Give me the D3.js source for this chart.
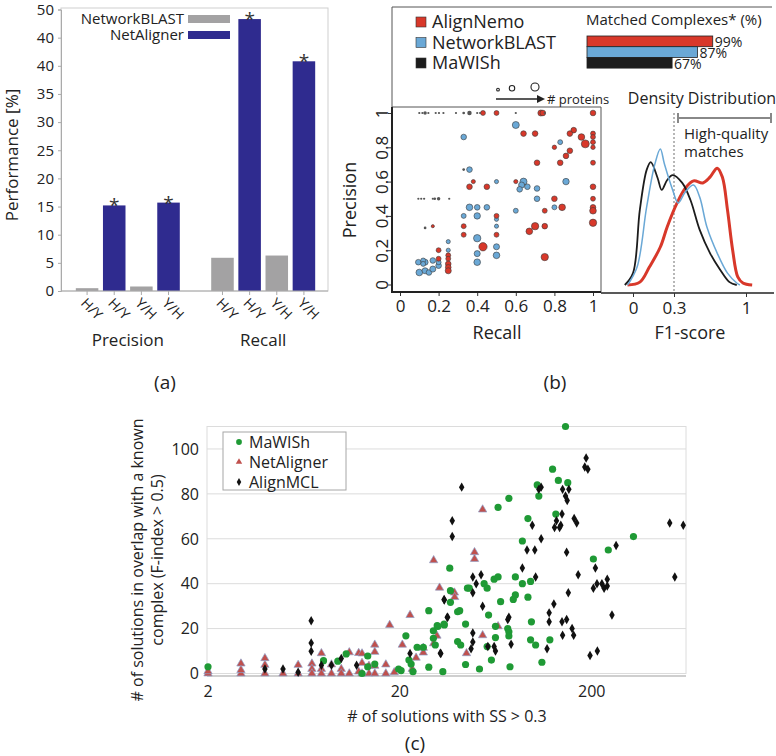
<!DOCTYPE html>
<meta charset="utf-8">
<style>
html, body { margin: 0; background: #fff; }
svg { display: block; font-family: "Open Sans", sans-serif; }
</style>
<svg></svg>
<script src="https://d3js.org/d3.v7.min.js"></script>
<script>

// ---------- data: panel (a) ----------
var metrics = ['Precision', 'Recall'];
var directions = ['H/Y', 'Y/H'];
var toolsA = ['NetworkBLAST', 'NetAligner'];
var networkBlastPerf = [0.5, 0.8, 5.9, 6.3];   // P H/Y, P Y/H, R H/Y, R Y/H
var netAlignerPerf = [15.2, 15.7, 48.3, 40.8];
var perfTicks = [0, 5, 10, 15, 20, 25, 30, 35, 40, 45, 50];
var perfTickLabels = ['0', '5', '10', '15', '20', '25', '30', '35', '40', '40', '50'];

// ---------- data: panel (b) ----------
// [recall, precision, # proteins]
var alignNemoPts = [
  [0.43,1,10],[0.50,1,10],[0.73,1,15],[0.74,1,13],[1,1,13],[0.64,0.88,13],[0.70,0.88,13],
  [0.90,0.90,13],[0.88,0.88,13],[0.94,0.86,18],[0.96,0.82,26],[1,0.88,10],[1,0.86,10],
  [1,0.83,10],[1,0.80,8],[0.80,0.80,8],[0.88,0.78,13],[0.86,0.75,13],[0.83,0.71,13],
  [0.71,0.71,13],[1,0.71,10],[0.38,0.60,7],[0.36,0.57,13],[0.45,0.57,13],[0.60,0.60,7],
  [1,0.57,13],[0.80,0.50,13],[0.84,0.45,18],[0.75,0.43,10],[1,0.50,10],[1,0.45,13],
  [1,0.43,18],[1,0.36,22],[0.50,0.40,10],[0.33,0.34,10],[0.33,0.29,10],[0.50,0.29,10],
  [0.70,0.34,22],[0.67,0.31,18],[0.75,0.34,13],[0.43,0.22,28],[0.75,0.16,22],[0.20,0.20,10],
  [0.20,0.15,10],[0.25,0.17,10],[0.25,0.15,10],[0.25,0.12,13],[0.25,0.10,13],[0.25,0.08,15],
  [0.17,0.34,4]
];
var networkBlastPts = [
  [0.60,0.93,20],[0.33,0.86,13],[0.83,0.83,10],[0.36,0.67,13],[0.50,0.60,7],[0.64,0.60,20],
  [0.63,0.58,15],[0.62,0.555,13],[0.66,0.57,13],[0.71,0.56,13],[0.71,0.50,13],[0.86,0.60,17],
  [0.36,0.45,18],[0.40,0.45,13],[0.45,0.45,13],[0.33,0.40,10],[0.40,0.40,17],[0.60,0.43,10],
  [0.80,0.45,10],[0.50,0.38,7],[0.50,0.34,7],[0.40,0.27,22],[0.40,0.18,15],[0.40,0.13,18],
  [0.50,0.22,15],[0.50,0.17,18],[0.095,0.13,13],[0.13,0.13,15],[0.17,0.14,13],[0.10,0.07,18],
  [0.13,0.08,15],[0.15,0.07,13],[0.17,0.09,15],[0.20,0.11,13],[0.20,0.13,10],[0.25,0.25,7],
  [0.25,0.20,7],[0.12,0.14,10],[0.12,0.12,10]
];
var mawishPtsB = [
  [0.10,1,2],[0.116,1,2],[0.13,1,5],[0.147,1,2],[0.185,1,2],[0.202,1,2],[0.225,1,2],
  [0.29,1,2],[0.33,1,3],[0.36,1,8],[0.40,1,2],[0.415,1,2],[0.60,1,2],[0.75,1,2],
  [0.095,0.5,2],[0.11,0.5,2],[0.125,0.5,2],[0.17,0.5,2],[0.18,0.5,3],[0.20,0.5,5],
  [0.255,0.5,2],[0.13,0.33,3],[0.33,0.67,3]
];
var methodsB = ['AlignNemo', 'NetworkBLAST', 'MaWISh'];
var matchedPct = [99, 87, 67];
var proteinLegend = [15, 60, 130];

// density curves [F1-score, density]
var densMaWISh = [[-0.06,0],[0,0.41],[0.05,2.59],[0.10,3.97],[0.13,4.24],[0.18,3.69],[0.21,3.28],
  [0.25,3.62],[0.29,3.79],[0.38,3.52],[0.46,2.93],[0.55,1.90],[0.65,1.10],[0.75,0.52],[0.84,0.10],[0.91,0]];
var densNetworkBlast = [[-0.04,0],[0.03,0.62],[0.10,2.69],[0.16,4.17],[0.20,4.69],[0.23,4.17],[0.29,3.28],
  [0.34,2.83],[0.41,3.21],[0.49,3.45],[0.55,3.03],[0.62,2.0],[0.72,1.10],[0.82,0.41],[0.91,0.07],[0.94,0]];
var densAlignNemo = [[-0.04,0],[0.05,0.10],[0.12,0.62],[0.20,1.31],[0.25,2.0],[0.33,2.83],[0.41,3.34],
  [0.49,3.59],[0.58,3.52],[0.65,3.72],[0.72,4.03],[0.77,3.72],[0.82,2.59],[0.87,1.21],[0.92,0.28],
  [0.97,0.07],[1.06,0]];

// ---------- data: panel (c) ----------
// [# of solutions with SS > 0.3, # of solutions overlapping a known complex]
var mawishC = [
  [2,3],[8,5.7],[9.5,5.5],[10.5,8.7],[12.7,0],[13.6,7.8],[13.6,3],[14.8,4.2],[19.7,2],[20.3,1.3],
  [21.5,16.8],[22.3,6],[22.9,4.2],[23.4,0.8],[24.6,11.7],[26.5,11.7],[28.3,2.8],[28.3,28],[29.9,19],
  [29.9,15.7],[31.3,21.3],[33.5,0.8],[34.1,21.6],[36.4,46.9],[36.7,36.9],[36.7,31.7],[40,27.5],[40,14.2],
  [146,110],[125,91],[134,86],[150,85],[104,84],[106,79],[74,78],[65,74],[130,71],[93,69],[87,59],
  [330,61],[244,55],[204,51],[80,43],[87,40],[96,41],[62,42],[65,43],[55,40],[57,38],[45,38],[46,38],
  [93,34],[80,35],[78,33],[67,32],[41,28],[58,26],[34,22],[31.6,21],[44,22],[63,21],[73,20],[74,18.6],
  [74,16.7],[97,23],[30.6,12.7],[41.5,12.7],[63,16],[96,15],[102,12.7],[121,15],[57,12],
  [44,4],[52,2],[60,6],[75,3],[110,5]
];
var netAlignerC = [
  [2,0],[2,1],[2.97,4.4],[2.97,0],[2.97,1.5],[3.96,6.8],[3.96,3.8],[3.96,0],[4.92,0],[5.9,3.8],[5.9,0],
  [6.96,4.4],[6.96,2],[6.96,0],[7.8,9],[7.8,2],[7.8,0],[8.8,4],[8.8,0],[9.9,2],[9.9,0],[10.9,9.4],
  [10.9,0],[12.2,9.1],[12.2,0.8],[12.7,8.9],[12.7,4.7],[12.7,0],[13.8,3.4],[13.8,0],[14.8,12.8],
  [14.8,9.6],[14.8,3.4],[14.8,0],[16.9,4],[16.9,0],[17.7,21.6],[18.7,0.5],[20.6,12.8],[22.6,26],
  [23.2,2],[24.3,7],[26.5,9.3],[26.5,11.4],[30,50.4],[30,13.4],[31.2,16.8],[32.2,38.2],[38.5,36],
  [38.6,34],[54,73],[49,54],[49,51],[65,21],[54,17],[44.5,9]
];
var alignMclC = [
  [3.96,2],[4.92,2],[5.9,0.6],[6.9,23.5],[6.9,13.6],[6.9,9.9],[7.8,3.7],[8.8,3.7],[9.9,6.7],[11.9,3.7],
  [22.6,8.9],[32.7,8.9],[34.1,32.7],[35.3,25],[187,96],[184,92],[191,91],[42,83],[109,83],[106,82],
  [141,82],[152,82],[146,79],[149,77],[37.5,68],[37.5,61],[140,71],[131,68],[138,66],[128,65],[136,65],
  [162,69],[167,67],[98,66],[510,67],[600,66],[109,60],[92,55],[101,55],[148,54],[268,57],[209,47],
  [170,44],[87,47],[102,43],[53,44],[48,43],[50,40],[48,36],[542,43],[204,38],[213,40],[226,40],
  [232,38],[241,42],[241,39],[151,36],[34,33],[54,30],[127,31],[35.5,25],[74,25],[73,24],[255,26],
  [120,27],[120,23],[140,23],[148,24],[158,20],[161,17],[141,17],[48,18],[48,14],[76,13],[57.5,12],
  [62,12],[63,10],[47,11],[117,11],[32.5,9],[196,8],[214,10]
];
var seriesC = ['MaWISh', 'NetAligner', 'AlignMCL'];
var yTicksC = [0, 20, 40, 60, 80, 100];
var xTicksC = [2, 20, 200];

var svg = d3.select('svg').attr('width', 776).attr('height', 756);

// =================== (a) ===================
var ga = svg.append('g');
var yA = d3.scaleLinear().domain([0, 50]).range([291, 9.5]);
var xMetric = d3.scaleBand().domain(metrics).range([75, 316]).paddingInner(0.22);
var pairKeys = [];
directions.forEach(function (dir) { toolsA.forEach(function (t) { pairKeys.push(dir + '|' + t); }); });
var xPair = d3.scaleBand().domain(pairKeys).range([0, xMetric.bandwidth()]).paddingInner(0.17).paddingOuter(0.03);
var colorA = d3.scaleOrdinal().domain(toolsA).range(['#a3a2a3', '#2f2b8f']);

var barsA = [];
metrics.forEach(function (m, mi) {
  directions.forEach(function (dir, di) {
    barsA.push({ metric: m, dir: dir, tool: toolsA[0], value: networkBlastPerf[mi * 2 + di] });
    barsA.push({ metric: m, dir: dir, tool: toolsA[1], value: netAlignerPerf[mi * 2 + di] });
  });
});
function barX(d) { return xMetric(d.metric) + xPair(d.dir + '|' + d.tool); }

ga.append('rect').attr('x', 61).attr('y', 8).attr('width', 267).attr('height', 283)
  .attr('fill', 'none').attr('stroke', '#cfcfcf');

ga.selectAll('rect.bar').data(barsA).enter().append('rect')
  .attr('class', 'bar')
  .attr('x', barX)
  .attr('width', xPair.bandwidth())
  .attr('y', function (d) { return yA(d.value); })
  .attr('height', function (d) { return yA(0) - yA(d.value); })
  .attr('fill', function (d) { return colorA(d.tool); });

ga.selectAll('text.star').data(barsA.filter(function (d) { return d.tool === 'NetAligner'; }))
  .enter().append('text')
  .attr('x', function (d) { return barX(d) + xPair.bandwidth() / 2; })
  .attr('y', function (d) { return yA(d.value) + 7; })
  .attr('text-anchor', 'middle').attr('font-size', 19).attr('fill', '#333').text('*');

var axA = ga.append('g').attr('transform', 'translate(61,0)')
  .call(d3.axisLeft(yA).tickValues(perfTicks).tickSize(3).tickPadding(4)
    .tickFormat(function (d, i) { return perfTickLabels[i]; }));
axA.select('.domain').attr('stroke', '#aaa');
axA.selectAll('.tick line').attr('stroke', '#aaa');
axA.selectAll('.tick text').attr('font-size', 15).attr('fill', '#222').attr('font-family', 'Open Sans');

ga.append('line').attr('x1', 61).attr('x2', 328).attr('y1', 291).attr('y2', 291).attr('stroke', '#aaa');

// x tick marks + rotated labels
var lblA = ga.selectAll('g.xl').data(barsA).enter().append('g')
  .attr('transform', function (d) { return 'translate(' + (barX(d) + xPair.bandwidth() / 2) + ',291)'; });
lblA.append('line').attr('y1', 0).attr('y2', 4).attr('stroke', '#aaa');
lblA.append('text')
  .attr('transform', 'translate(-7,13) rotate(45)')
  .attr('font-size', 14).attr('fill', '#222').text(function (d) { return d.dir; });

ga.selectAll('text.metric').data(metrics).enter().append('text')
  .attr('x', function (d) { return xMetric(d) + xMetric.bandwidth() / 2; })
  .attr('y', 346).attr('text-anchor', 'middle').attr('font-size', 17).attr('fill', '#222')
  .text(function (d) { return d; });

ga.append('text').attr('transform', 'translate(18,155) rotate(-90)')
  .attr('text-anchor', 'middle').attr('font-size', 17).attr('fill', '#222').text('Performance [%]');

// legend (a)
var legA = ga.selectAll('g.lega').data(toolsA).enter().append('g')
  .attr('transform', function (d, i) { return 'translate(0,' + (19 + i * 16) + ')'; });
legA.append('text').attr('x', 184).attr('dy', '0.35em').attr('text-anchor', 'end')
  .attr('font-size', 15).attr('fill', '#222').text(function (d) { return d; });
legA.append('rect').attr('x', 188).attr('y', -4).attr('width', 42).attr('height', 8)
  .attr('fill', function (d) { return colorA(d); });

svg.append('text').attr('x', 165).attr('y', 389).attr('text-anchor', 'middle')
  .attr('font-size', 19).attr('fill', '#222').text('(a)');

// =================== (b) ===================
var gb = svg.append('g');
var colorB = d3.scaleOrdinal().domain(methodsB).range(['#d8382a', '#6aa8d6', '#1c1c1c']);
var xB = d3.scaleLinear().domain([0, 1]).range([400, 593]);
var yB = d3.scaleLinear().domain([0, 1]).range([284.5, 113]);
var rB = d3.scaleSqrt().domain([0, 33]).range([0, 4.5]);

// legend box lines
gb.append('path').attr('d', 'M392,107 V7 H772').attr('fill', 'none').attr('stroke', '#555').attr('stroke-width', 1);
gb.append('path').attr('d', 'M392,107 H601 V292').attr('fill', 'none').attr('stroke', '#555').attr('stroke-width', 1);

function drawPts(data, method, fill) {
  gb.append('g').selectAll('circle').data(data).enter().append('circle')
    .attr('cx', function (d) { return xB(d[0]); })
    .attr('cy', function (d) { return yB(d[1]); })
    .attr('r', function (d) { return rB(d[2]); })
    .attr('fill', fill)
    .attr('stroke', method === 'MaWISh' ? 'none' : '#3a3a3a')
    .attr('stroke-width', 0.6);
}
drawPts(networkBlastPts, 'NetworkBLAST', colorB('NetworkBLAST'));
drawPts(alignNemoPts, 'AlignNemo', colorB('AlignNemo'));
drawPts(mawishPtsB, 'MaWISh', '#555');

var fmtB = function (d) { return d === 0 || d === 1 ? d3.format('d')(d) : d3.format('.1f')(d); };
var axBx = gb.append('g').attr('transform', 'translate(0,292)')
  .call(d3.axisBottom(xB).tickValues([0, 0.2, 0.4, 0.6, 0.8, 1]).tickSize(4).tickPadding(4).tickFormat(fmtB));
axBx.select('.domain').remove();
axBx.selectAll('.tick text').attr('font-size', 17).attr('fill', '#222').attr('font-family', 'Open Sans');
axBx.selectAll('.tick line').attr('stroke', '#333');

var axBy = gb.append('g').attr('transform', 'translate(392,0)')
  .call(d3.axisLeft(yB).tickValues([0, 0.2, 0.4, 0.6, 0.8, 1]).tickSize(4).tickPadding(0).tickFormat(fmtB));
axBy.select('.domain').remove();
axBy.selectAll('.tick line').attr('stroke', '#333');
axBy.selectAll('.tick text').attr('font-size', 17).attr('fill', '#222').attr('font-family', 'Open Sans')
  .attr('x', 0).attr('dy', 0).attr('text-anchor', 'middle')
  .attr('transform', 'translate(-11,0) rotate(-90)').attr('dominant-baseline', 'central');

gb.append('line').attr('x1', 392).attr('x2', 392).attr('y1', 107).attr('y2', 292).attr('stroke', '#222').attr('stroke-width', 2);
gb.append('line').attr('x1', 391).attr('x2', 601).attr('y1', 292).attr('y2', 292).attr('stroke', '#222').attr('stroke-width', 2);

gb.append('text').attr('transform', 'translate(356,200) rotate(-90)').attr('text-anchor', 'middle')
  .attr('font-size', 18).attr('fill', '#222').text('Precision');
gb.append('text').attr('x', 497).attr('y', 339).attr('text-anchor', 'middle')
  .attr('font-size', 18).attr('fill', '#222').text('Recall');

// legend (b)
var legB = gb.selectAll('g.legb').data(methodsB).enter().append('g')
  .attr('transform', function (d, i) { return 'translate(421,' + (22 + i * 20.5) + ')'; });
legB.append('rect').attr('x', -5).attr('y', -5).attr('width', 10).attr('height', 10)
  .attr('fill', function (d) { return colorB(d); }).attr('stroke', '#333').attr('stroke-width', 0.6);
legB.append('text').attr('x', 11).attr('dy', '0.36em').attr('font-size', 18).attr('fill', '#222')
  .text(function (d) { return d; });

// size legend
var sizeX = d3.scaleOrdinal().domain(proteinLegend).range([498, 512, 535]);
gb.selectAll('circle.sz').data(proteinLegend).enter().append('circle')
  .attr('cx', function (d) { return sizeX(d); })
  .attr('cy', function (d) { return 91 - rB(d) * 0.45; })
  .attr('r', function (d) { return rB(d) * 0.45; })
  .attr('fill', 'none').attr('stroke', '#222').attr('stroke-width', 1.1);
gb.append('line').attr('x1', 496).attr('x2', 538).attr('y1', 99).attr('y2', 99).attr('stroke', '#222').attr('stroke-width', 1.5);
gb.append('path').attr('d', 'M537,95 L545,99 L537,103 Z').attr('fill', '#222');
gb.append('text').attr('x', 547).attr('y', 104).attr('font-size', 13).attr('fill', '#222').text('# proteins');

// matched complexes bars
var xM = d3.scaleLinear().domain([0, 100]).range([587, 714]);
gb.append('text').attr('x', 586).attr('y', 25).attr('font-size', 15).attr('fill', '#222').text('Matched Complexes* (%)');
gb.selectAll('rect.mc').data(matchedPct).enter().append('rect')
  .attr('x', xM(0)).attr('y', function (d, i) { return 36 + i * 10.7; })
  .attr('width', function (d) { return xM(d) - xM(0); }).attr('height', 10.7)
  .attr('fill', function (d, i) { return colorB(methodsB[i]); })
  .attr('stroke', '#222').attr('stroke-width', 0.8);
gb.selectAll('text.mc').data(matchedPct).enter().append('text')
  .attr('x', function (d) { return xM(d) + 2; })
  .attr('y', function (d, i) { return 47 + i * 10.8; })
  .attr('font-size', 14).attr('fill', '#222').text(function (d) { return d + '%'; });

// density panel
var xD = d3.scaleLinear().domain([0, 0.3, 1]).range([633, 674, 746]);
var yD = d3.scaleLinear().domain([0, 5]).range([285, 140]);
gb.append('line').attr('x1', 601).attr('x2', 774).attr('y1', 293).attr('y2', 293).attr('stroke', '#222').attr('stroke-width', 1.5);
var axD = gb.append('g').attr('transform', 'translate(0,293)')
  .call(d3.axisBottom(xD).tickValues([0, 0.3, 1]).tickSize(4).tickPadding(5)
    .tickFormat(function (d) { return d === 0.3 ? '0.3' : String(d); }));
axD.select('.domain').remove();
axD.selectAll('.tick line').attr('stroke', '#333');
axD.selectAll('.tick text').attr('font-size', 17).attr('fill', '#222').attr('font-family', 'Open Sans');

gb.append('line').attr('x1', xD(0.3)).attr('x2', xD(0.3)).attr('y1', 113).attr('y2', 292)
  .attr('stroke', '#888').attr('stroke-width', 1.2).attr('stroke-dasharray', '2,2');

var lineD = d3.line().x(function (d) { return xD(d[0]); }).y(function (d) { return yD(d[1]); })
  .curve(d3.curveCatmullRom.alpha(0.5));
gb.append('path').datum(densAlignNemo).attr('d', lineD).attr('fill', 'none')
  .attr('stroke', colorB('AlignNemo')).attr('stroke-width', 3);
gb.append('path').datum(densMaWISh).attr('d', lineD).attr('fill', 'none')
  .attr('stroke', colorB('MaWISh')).attr('stroke-width', 1.8);
gb.append('path').datum(densNetworkBlast).attr('d', lineD).attr('fill', 'none')
  .attr('stroke', colorB('NetworkBLAST')).attr('stroke-width', 1.5);

gb.append('text').attr('x', 702).attr('y', 104).attr('text-anchor', 'middle').attr('font-size', 16)
  .attr('fill', '#222').text('Density Distribution');
gb.append('path').attr('d', 'M678,113 V123 M678,118 H771 M771,113 V123')
  .attr('fill', 'none').attr('stroke', '#888').attr('stroke-width', 2);
gb.append('text').attr('x', 684).attr('y', 139).attr('font-size', 15).attr('fill', '#222').text('High-quality');
gb.append('text').attr('x', 684).attr('y', 157).attr('font-size', 15).attr('fill', '#222').text('matches');
gb.append('text').attr('x', 690).attr('y', 339).attr('text-anchor', 'middle').attr('font-size', 18)
  .attr('fill', '#222').text('F1-score');

svg.append('text').attr('x', 555).attr('y', 389).attr('text-anchor', 'middle')
  .attr('font-size', 19).attr('fill', '#222').text('(b)');

// =================== (c) ===================
var gc = svg.append('g');
var xC = d3.scaleLog().domain([2, 620]).range([208, 686]);
var yC = d3.scaleLinear().domain([0, 110]).range([673.5, 426.5]);
var colorC = d3.scaleOrdinal().domain(seriesC).range(['#1f9a35', '#c0504d', '#111']);

gc.append('rect').attr('x', 207).attr('y', yC(110)).attr('width', 686 - 207).attr('height', yC(0) - yC(110))
  .attr('fill', 'none').attr('stroke', '#dcdcdc');
gc.selectAll('line.grid').data(yTicksC).enter().append('line')
  .attr('x1', 207).attr('x2', 686)
  .attr('y1', function (d) { return yC(d); }).attr('y2', function (d) { return yC(d); })
  .attr('stroke', '#dcdcdc');
gc.append('line').attr('x1', 207).attr('x2', 686).attr('y1', yC(0) + 2.5).attr('y2', yC(0) + 2.5)
  .attr('stroke', '#cfcfcf').attr('stroke-width', 2);

gc.selectAll('text.yc').data(yTicksC).enter().append('text')
  .attr('x', 199).attr('y', function (d) { return yC(d); }).attr('dy', '0.36em')
  .attr('text-anchor', 'end').attr('font-size', 16).attr('fill', '#222').text(function (d) { return d; });
gc.selectAll('text.xc').data(xTicksC).enter().append('text')
  .attr('x', function (d) { return xC(d); }).attr('y', 697)
  .attr('text-anchor', 'middle').attr('font-size', 16).attr('fill', '#222').text(function (d) { return d; });

gc.append('g').selectAll('path').data(netAlignerC).enter().append('path')
  .attr('transform', function (d) { return 'translate(' + xC(d[0]) + ',' + yC(d[1]) + ')'; })
  .attr('d', d3.symbol(d3.symbolTriangle, 30))
  .attr('fill', colorC('NetAligner')).attr('stroke', '#8d9fc9').attr('stroke-width', 0.7);
gc.append('g').selectAll('circle').data(mawishC).enter().append('circle')
  .attr('cx', function (d) { return xC(d[0]); }).attr('cy', function (d) { return yC(d[1]); })
  .attr('r', 3.6).attr('fill', colorC('MaWISh'));
gc.append('g').selectAll('path').data(alignMclC).enter().append('path')
  .attr('transform', function (d) { return 'translate(' + xC(d[0]) + ',' + yC(d[1]) + ')'; })
  .attr('d', d3.symbol(d3.symbolDiamond, 26))
  .attr('fill', colorC('AlignMCL'));

// legend (c)
gc.append('rect').attr('x', 223).attr('y', 432).attr('width', 123).attr('height', 58)
  .attr('fill', '#fff').attr('stroke', '#a6a6a6');
var legC = gc.selectAll('g.legc').data(seriesC).enter().append('g')
  .attr('transform', function (d, i) { return 'translate(239,' + (442 + i * 20) + ')'; });
legC.append('path').attr('d', function (d, i) {
  return d3.symbol([d3.symbolCircle, d3.symbolTriangle, d3.symbolDiamond][i], [26, 18, 18][i])();
}).attr('fill', function (d) { return colorC(d); });
legC.append('text').attr('x', 10).attr('dy', '0.35em').attr('font-size', 16).attr('fill', '#222')
  .text(function (d) { return d; });

gc.append('text').attr('x', 447).attr('y', 722).attr('text-anchor', 'middle').attr('font-size', 16)
  .attr('fill', '#222').text('# of solutions with SS > 0.3');
gc.append('text').attr('transform', 'translate(143,560) rotate(-90)').attr('text-anchor', 'middle')
  .attr('font-size', 16).attr('fill', '#222').text('# of solutions in overlap with a known');
gc.append('text').attr('transform', 'translate(163,560) rotate(-90)').attr('text-anchor', 'middle')
  .attr('font-size', 16).attr('fill', '#222').text('complex (F-index > 0.5)');

svg.append('text').attr('x', 415).attr('y', 750).attr('text-anchor', 'middle')
  .attr('font-size', 19).attr('fill', '#222').text('(c)');
</script>
